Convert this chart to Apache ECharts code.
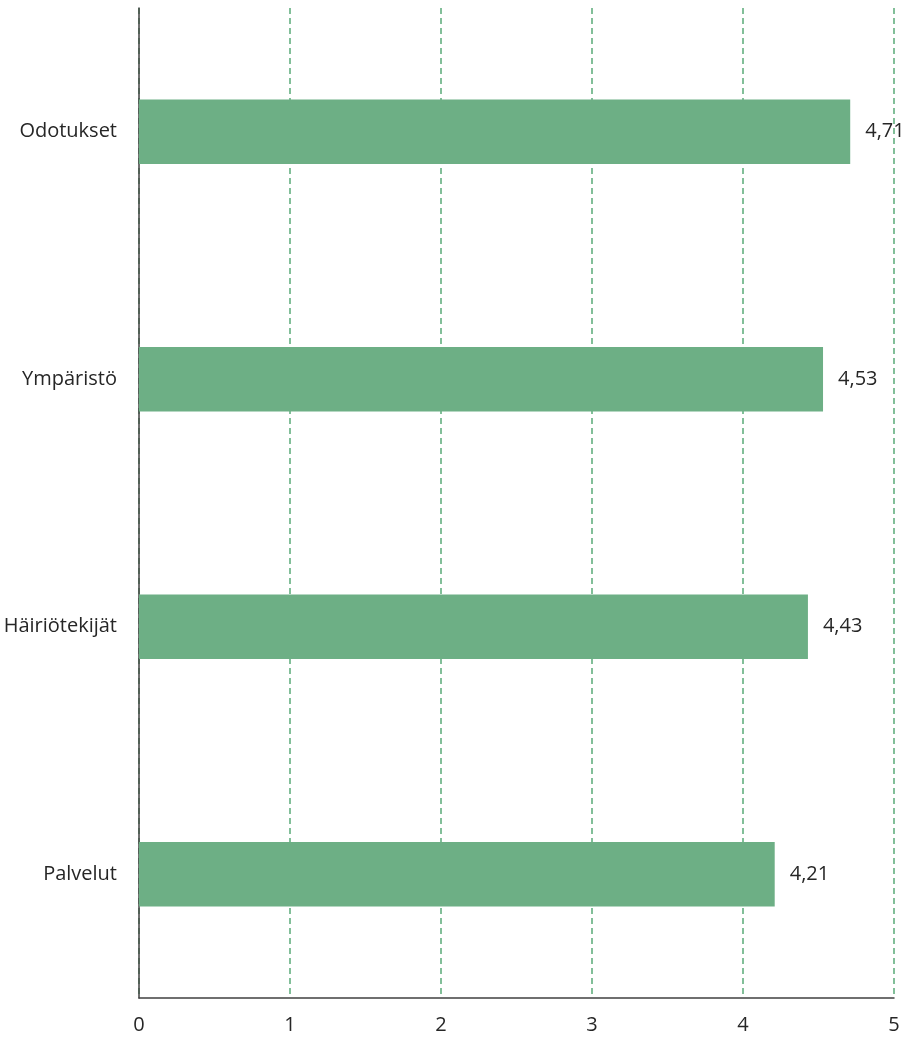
<!DOCTYPE html>
<html><head><meta charset="utf-8">
<script src="https://cdn.jsdelivr.net/npm/echarts@6/dist/echarts.min.js"></script>
<style>html,body{margin:0;padding:0;background:#fff}#c{width:904px;height:1039px}</style>
</head><body><div id="c"></div>
<script>
const categories = ["Palvelut", "Häiriötekijät", "Ympäristö", "Odotukset"];
const values = [4.21, 4.43, 4.53, 4.71];
const xTicks = [0, 1, 2, 3, 4, 5];

const chart = echarts.init(document.getElementById('c'));
const font = '"Open Sans", "Noto Sans", sans-serif';
chart.setOption({
  animation: false,
  grid: { left: 139, right: 10, top: 8, bottom: 41, containLabel: false },
  xAxis: {
    type: 'value', min: 0, max: 5, interval: 1,
    axisLine: { show: true, lineStyle: { color: '#404040', width: 1.5 } },
    axisTick: { show: false },
    axisLabel: { color: '#262626', fontSize: 20, fontFamily: font, margin: 17,
      formatter: v => String(v) },
    splitLine: { show: true, lineStyle: { color: '#5aab78', type: [6, 4], width: 1.5 } }
  },
  yAxis: {
    type: 'category', data: categories,
    axisLine: { show: true, lineStyle: { color: '#404040', width: 1.5 } },
    axisTick: { show: false },
    axisLabel: { color: '#262626', fontSize: 20, fontFamily: font, margin: 22 }
  },
  series: [{
    type: 'bar', data: values, barWidth: '26%',
    itemStyle: { color: '#6daf85' },
    label: { show: true, position: 'right', distance: 15, color: '#262626',
      fontSize: 20, fontFamily: font,
      formatter: p => p.value.toFixed(2).replace('.', ',') }
  }]
});
</script></body></html>
